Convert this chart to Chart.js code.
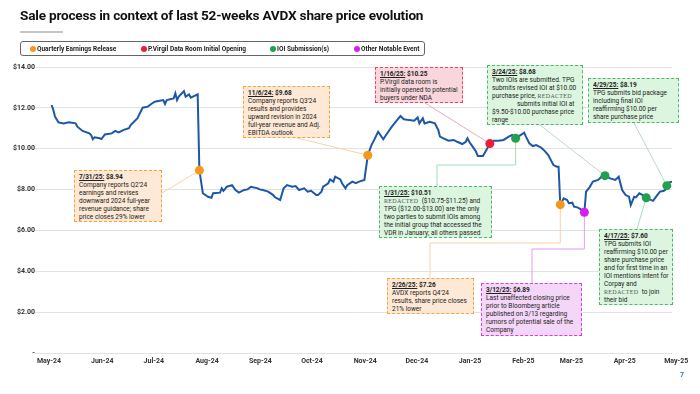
<!DOCTYPE html>
<html>
<head>
<meta charset="utf-8">
<script src="https://cdn.jsdelivr.net/npm/chart.js@4"></script>
<style>
  body { margin: 0; background: #fff; font-family: Roboto, 'Liberation Sans', sans-serif; }
  #wrap { position: relative; width: 700px; height: 394px; overflow: hidden; }
  #chart { position: absolute; left: 0; top: 0; }
  .title { position: absolute; left: 20px; top: 7px; font-size: 13.6px; font-weight: 700; color: #111; letter-spacing: -0.2px; white-space: nowrap; }
  .title-rule { position: absolute; left: 20px; top: 31px; width: 43px; height: 2px; background: #c4c4c4; }
  .legend { position: absolute; left: 20px; top: 41px; width: 405px; height: 15px; box-sizing: border-box; border: 1px solid #666; border-radius: 3px; }
  .legend span { position: absolute; top: 3px; font-size: 6.5px; font-weight: 700; color: #222; white-space: nowrap; line-height: 8px; }
  .legend i { position: absolute; top: 3.5px; width: 6px; height: 6px; border-radius: 50%; }
  .note { position: absolute; box-sizing: border-box; padding: 2px 4px; font-size: 6.5px; line-height: 8px; color: #222; border: 1.3px dashed; white-space: nowrap; }
  .note b { font-weight: 700; }
  .orange { background: #fde9d5; border-color: #f5a346; }
  .red { background: #f9d5dc; border-color: #e8476b; }
  .green { background: #dcf5df; border-color: #4cb96c; }
  .magenta { background: #f4d6f8; border-color: #d43df0; }
  .red-x { font-family: 'Liberation Serif', serif; font-size: 6px; color: #555; letter-spacing: 0.3px; }
  .page { position: absolute; left: 680px; top: 371px; font-size: 7px; font-weight: 700; color: #2e75b6; }
</style>
</head>
<body>
<div id="wrap">
  <canvas id="chart" width="700" height="394"></canvas>
  <div class="title">Sale process in context of last 52-weeks AVDX share price evolution</div>
  <div class="title-rule"></div>
  <div class="legend" id="legend"></div>

  <div class="note orange" style="left:74px;top:170px;width:88px;height:52px"><b><u>7/31/25:</u> $8.94</b><br>Company reports Q2'24<br>earnings and revises<br>downward 2024 full-year<br>revenue guidance; share<br>price closes 29% lower</div>
  <div class="note orange" style="left:243px;top:86px;width:87px;height:52px"><b><u>11/6/24:</u> $9.68</b><br>Company reports Q3'24<br>results and provides<br>upward revision in 2024<br>full-year revenue and Adj.<br>EBITDA outlook</div>
  <div class="note red" style="left:375px;top:67px;width:88px;height:36px"><b><u>1/16/25:</u> $10.25</b><br>P.Virgil data room is<br>initially opened to potential<br>buyers under NDA</div>
  <div class="note green" style="left:379px;top:186px;width:113px;height:52px"><b><u>1/31/25:</u> $10.51</b><br><span class="red-x">REDACTED</span>&nbsp; ($10.75-$11.25) and<br>TPG ($12.00-$13.00) are the only<br>two parties to submit IOIs among<br>the initial group that accessed the<br>VDR in January; all others passed</div>
  <div class="note green" style="left:487px;top:65px;width:96px;height:60px"><b><u>3/24/25:</u> $8.68</b><br>Two IOIs are submitted. TPG<br>submits revised IOI at $10.00<br>purchase price, <span class="red-x">REDACTED</span><br><span style="padding-left:25px">submits initial IOI at</span><br>$9.50-$10.00 purchase price<br>range</div>
  <div class="note green" style="left:588px;top:78px;width:91px;height:45px"><b><u>4/29/25:</u> $8.19</b><br>TPG submits bid package<br>including final IOI<br>reaffirming $10.00 per<br>share purchase price</div>
  <div class="note orange" style="left:387px;top:278px;width:87px;height:36px"><b><u>2/26/25:</u> $7.26</b><br>AVDX reports Q4'24<br>results, share price closes<br>21% lower</div>
  <div class="note magenta" style="left:481px;top:283px;width:101px;height:53px"><b><u>3/12/25:</u> $6.89</b><br>Last unaffected closing price<br>prior to Bloomberg article<br>published on 3/13 regarding<br>rumors of potential sale of the<br>Company</div>
  <div class="note green" style="left:599px;top:229px;width:74px;height:76px"><b><u>4/17/25:</u> $7.60</b><br>TPG submits IOI<br>reaffirming $10.00 per<br>share purchase price<br>and for first time in an<br>IOI mentions intent for<br>Corpay and<br><span class="red-x">REDACTED</span>&nbsp; to join<br>their bid</div>

  <div class="page">7</div>
</div>

<script>
// AVDX closing prices
const dates = [
  '2024-05-06','2024-05-07','2024-05-08','2024-05-10','2024-05-13','2024-05-16','2024-05-20','2024-05-21','2024-05-24','2024-05-28',
  '2024-05-29','2024-05-30','2024-05-31','2024-06-03','2024-06-04','2024-06-06','2024-06-10','2024-06-12','2024-06-14','2024-06-17',
  '2024-06-20','2024-06-21','2024-06-25','2024-06-28','2024-07-01','2024-07-03','2024-07-05','2024-07-08','2024-07-10','2024-07-11',
  '2024-07-12','2024-07-16','2024-07-17','2024-07-18','2024-07-19','2024-07-22','2024-07-23','2024-07-25','2024-07-26','2024-07-30',
  '2024-07-31','2024-08-02','2024-08-05','2024-08-07','2024-08-08','2024-08-12','2024-08-13','2024-08-14','2024-08-16','2024-08-19',
  '2024-08-21','2024-08-23','2024-08-26','2024-08-28','2024-08-30','2024-09-03','2024-09-04','2024-09-06','2024-09-09','2024-09-12',
  '2024-09-13','2024-09-16','2024-09-18','2024-09-20','2024-09-23','2024-09-25','2024-09-27','2024-09-30','2024-10-02','2024-10-04',
  '2024-10-07','2024-10-08','2024-10-10','2024-10-11','2024-10-14','2024-10-15','2024-10-17','2024-10-18','2024-10-21','2024-10-22',
  '2024-10-24','2024-10-25','2024-10-28','2024-10-30','2024-11-01','2024-11-04','2024-11-06','2024-11-08','2024-11-10','2024-11-12',
  '2024-11-15','2024-11-17','2024-11-20','2024-11-23','2024-11-25','2024-11-27','2024-11-30','2024-12-03','2024-12-05','2024-12-06',
  '2024-12-08','2024-12-09','2024-12-12','2024-12-15','2024-12-17','2024-12-18','2024-12-20','2024-12-23','2024-12-26','2024-12-28',
  '2024-12-31','2025-01-02','2025-01-03','2025-01-04','2025-01-06','2025-01-08','2025-01-09','2025-01-12','2025-01-14','2025-01-16',
  '2025-01-18','2025-01-21','2025-01-24','2025-01-27','2025-01-29','2025-01-31','2025-02-02','2025-02-05','2025-02-06','2025-02-08',
  '2025-02-10','2025-02-12','2025-02-15','2025-02-17','2025-02-19','2025-02-22','2025-02-24','2025-02-25','2025-02-26','2025-02-28',
  '2025-03-02','2025-03-03','2025-03-05','2025-03-06','2025-03-08','2025-03-10','2025-03-12','2025-03-13','2025-03-15','2025-03-17',
  '2025-03-20','2025-03-22','2025-03-24','2025-03-27','2025-03-30','2025-04-01','2025-04-03','2025-04-05','2025-04-07','2025-04-08',
  '2025-04-10','2025-04-11','2025-04-13','2025-04-15','2025-04-17','2025-04-19','2025-04-21','2025-04-23','2025-04-25','2025-04-27',
  '2025-04-28','2025-04-29','2025-04-30','2025-05-02'
];
const prices = [
  12.14, 11.90, 11.57, 11.29, 11.24, 11.29, 11.24, 11.08, 10.87, 10.75,
  10.67, 10.47, 10.56, 10.51, 10.47, 10.70, 10.75, 10.87, 10.80, 10.92,
  11.00, 11.16, 11.49, 12.01, 12.06, 12.19, 12.30, 12.35, 12.38, 12.19,
  12.38, 12.46, 12.71, 12.38, 12.55, 12.82, 12.55, 12.66, 12.50, 12.66,
  8.94, 7.82, 7.65, 7.60, 7.82, 7.85, 8.06, 7.94, 8.14, 8.22,
  7.98, 7.85, 7.98, 8.01, 8.14, 8.06, 8.01, 7.98, 7.90, 7.73,
  7.62, 7.49, 8.06, 8.22, 8.14, 8.17, 7.98, 8.06, 7.90, 7.94,
  7.73, 7.73, 7.90, 8.14, 8.31, 8.50, 8.39, 8.63, 8.50, 8.31,
  8.06, 8.22, 8.39, 8.31, 8.39, 8.47, 9.68, 10.15, 10.48, 10.83,
  10.46, 10.72, 11.08, 11.40, 11.60, 11.44, 11.40, 11.37, 11.53, 11.24,
  11.49, 11.24, 11.32, 11.24, 10.92, 10.59, 10.51, 10.39, 10.43, 10.34,
  10.23, 10.34, 10.51, 10.34, 10.10, 9.85, 9.64, 9.64, 9.94, 10.25,
  10.39, 10.39, 10.43, 10.59, 10.67, 10.51, 10.62, 10.78, 10.59, 10.26,
  10.13, 10.18, 10.05, 9.88, 9.69, 9.20, 9.12, 9.12, 7.26, 7.57,
  7.49, 7.33, 7.36, 7.16, 7.13, 7.03, 6.89, 7.90, 8.11, 8.39,
  8.47, 8.63, 8.68, 8.55, 8.47, 8.63, 7.98, 7.73, 7.65, 7.24,
  7.65, 7.62, 7.82, 7.73, 7.60, 7.52, 7.45, 7.68, 7.90, 7.93,
  7.98, 8.19, 8.34, 8.39
];

// highlighted events
const eventDates  = ['2024-07-31', '2024-11-06', '2025-01-16', '2025-01-31', '2025-02-26', '2025-03-12', '2025-03-24', '2025-04-17', '2025-04-29'];
const eventPrices = [8.94, 9.68, 10.25, 10.51, 7.26, 6.89, 8.68, 7.60, 8.19];
const eventTypes  = ['earnings', 'earnings', 'dataRoom', 'ioi', 'earnings', 'other', 'ioi', 'ioi', 'ioi'];

const legendTypes  = ['earnings', 'dataRoom', 'ioi', 'other'];
const legendLabels = ['Quarterly Earnings Release', 'P.Virgil Data Room Initial Opening', 'IOI Submission(s)', 'Other Notable Event'];

const monthLabels = ['May-24', 'Jun-24', 'Jul-24', 'Aug-24', 'Sep-24', 'Oct-24', 'Nov-24', 'Dec-24', 'Jan-25', 'Feb-25', 'Mar-25', 'Apr-25', 'May-25'];
const yTicks = [0, 2, 4, 6, 8, 10, 12, 14];

const typeColors = { earnings: '#f7961e', dataRoom: '#ec1c3c', ioi: '#23a04e', other: '#d41ff0' };

const startDay = Date.parse('2024-05-01');
const dayOf = s => Math.round((Date.parse(s) - startDay) / 864e5);
const monthDays = monthLabels.map((l, i) => Math.round((Date.UTC(2024, 4 + i, 1) - startDay) / 864e5));

// legend
const legendEl = document.getElementById('legend');
const legendPos = [9, 120, 249, 333];
legendTypes.forEach((t, i) => {
  const dot = document.createElement('i');
  dot.style.left = legendPos[i] + 'px';
  dot.style.background = typeColors[t];
  const txt = document.createElement('span');
  txt.style.left = (legendPos[i] + 7) + 'px';
  txt.textContent = legendLabels[i];
  legendEl.appendChild(dot);
  legendEl.appendChild(txt);
});

// leader lines from note boxes to markers (box side in px, optional elbow y)
const connectors = [
  { event: 0, from: [162, 193], color: '#f8d2a8' },
  { event: 1, from: [297, 138], color: '#f8d2a8' },
  { event: 2, from: [425, 103], color: '#f0a9ba' },
  { event: 3, from: [437, 186], elbow: 165, color: '#a9d9bb' },
  { event: 4, from: [430, 278], elbow: 243, color: '#f8d2a8' },
  { event: 5, from: [532, 283], elbow: 249, color: '#e39af2' },
  { event: 6, from: [540, 125], color: '#bcd6d2' },
  { event: 7, from: [637, 229], color: '#a9d9cc' },
  { event: 8, from: [634, 123], color: '#bcd6d2' }
];

const connectorPlugin = {
  id: 'connectors',
  beforeDatasetsDraw(chart) {
    const { ctx, scales: { x, y } } = chart;
    ctx.save();
    ctx.lineWidth = 1;
    connectors.forEach(c => {
      const mx = x.getPixelForValue(dayOf(eventDates[c.event]));
      const my = y.getPixelForValue(eventPrices[c.event]);
      ctx.strokeStyle = c.color;
      ctx.beginPath();
      ctx.moveTo(c.from[0], c.from[1]);
      if (c.elbow != null) {
        ctx.lineTo(c.from[0], c.elbow);
        ctx.lineTo(mx, c.elbow);
      }
      ctx.lineTo(mx, my);
      ctx.stroke();
    });
    ctx.restore();
  }
};

Chart.defaults.font.family = 'Roboto';

new Chart(document.getElementById('chart'), {
  type: 'line',
  data: {
    datasets: [{
      label: 'Events',
      data: eventDates.map((d, i) => ({ x: dayOf(d), y: eventPrices[i] })),
      showLine: false,
      pointRadius: 4.5,
      pointBackgroundColor: eventTypes.map(t => typeColors[t]),
      pointBorderWidth: 0,
      order: 0
    }, {
      label: 'AVDX',
      data: dates.map((d, i) => ({ x: dayOf(d), y: prices[i] })),
      borderColor: '#1d57a7',
      borderWidth: 2,
      pointRadius: 0,
      tension: 0,
      order: 1
    }]
  },
  options: {
    responsive: false,
    animation: false,
    layout: { padding: { top: 67, right: 28, bottom: 0, left: 0 } },
    plugins: { legend: { display: false }, tooltip: { enabled: false } },
    scales: {
      x: {
        type: 'linear',
        min: 0,
        max: 366,
        grid: { display: false, drawTicks: false },
        border: { display: false },
        afterBuildTicks: axis => { axis.ticks = monthDays.map(v => ({ value: v })); },
        afterFit: s => { s.height = 41; },
        ticks: {
          autoSkip: false,
          maxRotation: 0,
          padding: 4,
          labelOffset: 6,
          color: '#333',
          font: { size: 7, weight: 'bold' },
          callback: (v, i) => monthLabels[i]
        }
      },
      y: {
        min: 0,
        max: 14,
        grid: { color: '#e2e2e2', lineWidth: 1 },
        border: { display: false },
        afterBuildTicks: axis => { axis.ticks = yTicks.map(v => ({ value: v })); },
        afterFit: s => { s.width = 43; },
        ticks: {
          padding: 0,
          color: '#333',
          font: { size: 7, weight: 'bold' },
          callback: v => v === 0 ? '-' : '$' + v.toFixed(2)
        }
      }
    }
  },
  plugins: [connectorPlugin]
});
</script>
</body>
</html>
